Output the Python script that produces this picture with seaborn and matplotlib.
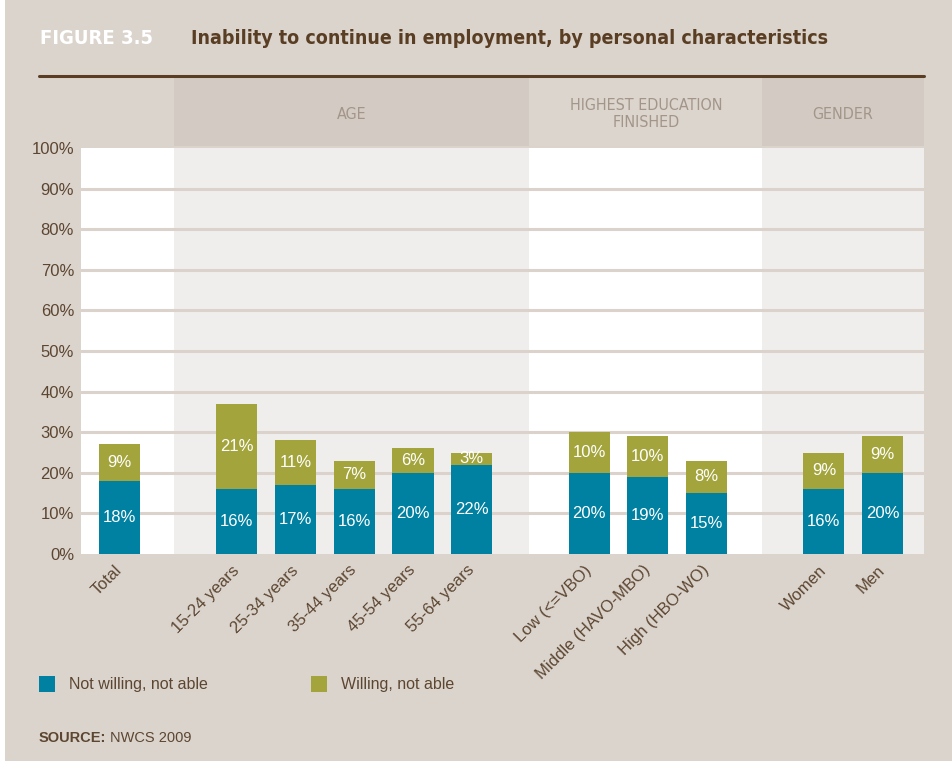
import matplotlib
matplotlib.use("Agg")
import matplotlib.pyplot as plt
import matplotlib.transforms as mtransforms
from matplotlib.patches import Rectangle
import pandas as pd
import seaborn as sns

# --- data -------------------------------------------------------------
categories = ["Total", "15-24 years", "25-34 years", "35-44 years",
              "45-54 years", "55-64 years", "Low (<=VBO)",
              "Middle (HAVO-MBO)", "High (HBO-WO)", "Women", "Men"]
groups = ["Total", "Age", "Age", "Age", "Age", "Age",
          "Education", "Education", "Education", "Gender", "Gender"]
not_willing = [18, 16, 17, 16, 20, 22, 20, 19, 15, 16, 20]
willing = [9, 21, 11, 7, 6, 3, 10, 10, 8, 9, 9]
series_names = ["Not willing, not able", "Willing, not able"]
y_ticks = [0, 10, 20, 30, 40, 50, 60, 70, 80, 90, 100]
panel_titles = ["AGE", "HIGHEST EDUCATION\nFINISHED", "GENDER"]

# --- styling ----------------------------------------------------------
BG = "#dbd4cd"
BLUE = "#0081a1"
OLIVE = "#a3a53c"
BROWN = "#5c4631"
TITLE_BROWN = "#5a3e23"
HEADER_TXT = "#a39689"
GRID = "#dad2cb"
PANEL_GREY = "#f0eeec"
HEADER_DARK = "#d3cbc3"
HEADER_LIGHT = "#dcd5ce"
NARROW = ["Liberation Sans Narrow", "DejaVu Sans"]

sns.set_theme(style="white")
plt.rcParams["font.family"] = ["Liberation Sans", "DejaVu Sans"]

# slot positions: one empty slot between consecutive groups
positions = []
pos = 0
for i, g in enumerate(groups):
    if i > 0:
        pos += 2 if groups[i - 1] != g else 1
    positions.append(pos)

df = pd.DataFrame({
    "category": categories,
    "pos": positions,
    "not_willing": not_willing,
    "willing": willing,
})
df["total"] = df["not_willing"] + df["willing"]

W, H = 953, 761
fig = plt.figure(figsize=(W / 100, H / 100), dpi=100, facecolor=BG)
fig.patches.append(Rectangle((0, 0), 5 / W, 1, transform=fig.transFigure,
                             facecolor="white", edgecolor="none", zorder=0))

x_left, x_right = 81, 924
y_bottom, y_top = 554, 148
ax = fig.add_axes([x_left / W, 1 - y_bottom / H,
                   (x_right - x_left) / W, (y_bottom - y_top) / H])
ax.set_facecolor("white")

xmin, xmax = -0.656, 13.705

# grey panels behind the age and gender groups
panels = [(0.93, 6.98), (6.98, 10.95), (10.95, xmax)]
panel_fill = [PANEL_GREY, "white", PANEL_GREY]
header_fill = [HEADER_DARK, HEADER_LIGHT, HEADER_DARK]
for (a, b), fc in zip(panels, panel_fill):
    ax.axvspan(a, b, facecolor=fc, edgecolor="none", zorder=0)

for v in y_ticks[1:-1]:
    ax.axhline(v, color=GRID, lw=2.2, zorder=0.5)

# stacked bars: full height in olive, lower segment in blue over it
sns.barplot(data=df, x="pos", y="total", native_scale=True, width=0.7,
            color=OLIVE, saturation=1, ax=ax, zorder=2, errorbar=None,
            linewidth=0)
sns.barplot(data=df, x="pos", y="not_willing", native_scale=True, width=0.7,
            color=BLUE, saturation=1, ax=ax, zorder=3, errorbar=None,
            linewidth=0)
ax.set_xlim(xmin, xmax)
ax.set_ylim(0, 100)

for p, nw, w in zip(df["pos"], df["not_willing"], df["willing"]):
    ax.text(p, nw / 2, f"{nw}%", ha="center", va="center", color="white",
            fontsize=12, zorder=4)
    ax.text(p, nw + w / 2, f"{w}%", ha="center", va="center", color="white",
            fontsize=12, zorder=4)

ax.set_xlabel("")
ax.set_ylabel("")
ax.set_yticks(y_ticks)
ax.set_yticklabels([f"{v}%" for v in y_ticks], color=BROWN, fontsize=12)
ax.set_xticks(positions)
ax.set_xticklabels(categories, rotation=45, ha="right", va="center",
                   rotation_mode="anchor", color=BROWN, fontsize=12)
ax.tick_params(axis="both", length=0)
ax.tick_params(axis="x", pad=10)
ax.tick_params(axis="y", pad=5)
for s in ax.spines.values():
    s.set_visible(False)

# panel headers above the plot
trans = mtransforms.blended_transform_factory(ax.transData, ax.transAxes)
hb = (y_bottom - 146) / (y_bottom - y_top)
ht = (y_bottom - 78) / (y_bottom - y_top)
for (a, b), fc, label in zip(panels, header_fill, panel_titles):
    ax.add_patch(Rectangle((a, hb), b - a, ht - hb, transform=trans,
                           facecolor=fc, edgecolor="none", clip_on=False,
                           zorder=1))
    ax.text((a + b) / 2, (hb + ht) / 2 - 0.005, label, transform=trans,
            ha="center", va="center", color=HEADER_TXT, fontsize=11.5,
            family=NARROW, fontstretch="condensed", linespacing=1.15)

# title rule and heading
fig.add_artist(plt.Line2D([39 / W, 924 / W], [1 - 75.5 / H, 1 - 75.5 / H],
                          color=TITLE_BROWN, lw=2.2))
renderer = fig.canvas.get_renderer()


def fit_text(x, y, s, max_px, size, **kw):
    t = fig.text(x, y, s, fontsize=size, **kw)
    while t.get_window_extent(renderer).width > max_px and size > 6:
        size -= 0.25
        t.set_fontsize(size)
    return t


fit_text(40 / W, 1 - 38 / H, "FIGURE 3.5", 115, 16, color="white",
         fontweight="bold", va="center", ha="left", family=NARROW,
         fontstretch="condensed")
fit_text(191 / W, 1 - 38 / H,
         "Inability to continue in employment, by personal characteristics",
         639, 16, color=TITLE_BROWN, fontweight="bold", va="center",
         ha="left", family=NARROW, fontstretch="condensed")

# legend
for x0, col, name in [(39, BLUE, series_names[0]), (311, OLIVE, series_names[1])]:
    fig.patches.append(Rectangle((x0 / W, 1 - 692 / H), 16 / W, 16 / H,
                                 transform=fig.transFigure, facecolor=col,
                                 edgecolor="none"))
    fig.text((x0 + 30) / W, 1 - 685 / H, name, color=BROWN, fontsize=11.5,
             va="center", ha="left")

# source line
src = fig.text(39 / W, 1 - 738 / H, "SOURCE:", color=BROWN, fontsize=10.5,
               fontweight="bold", va="center", ha="left")
src_end = src.get_window_extent(renderer).x1
fig.text((src_end + 4) / W, 1 - 738 / H, "NWCS 2009", color=BROWN,
         fontsize=10.5, va="center", ha="left")

fig.savefig("out.png", dpi=100, facecolor=BG)
